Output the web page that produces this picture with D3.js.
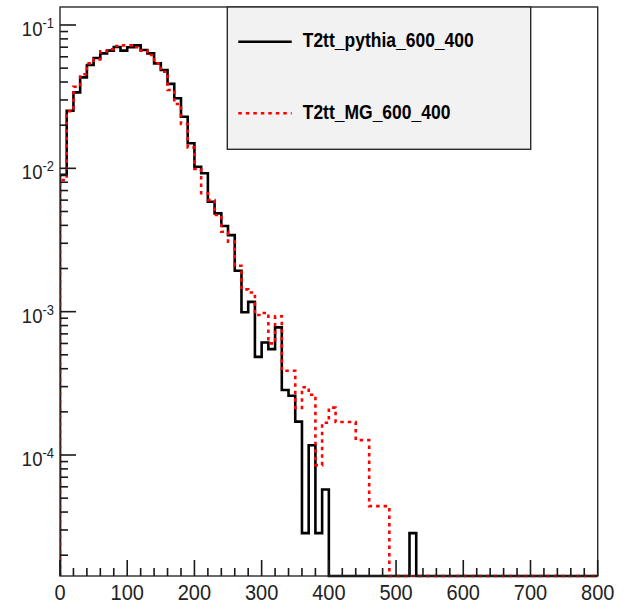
<!DOCTYPE html>
<html>
<head>
<meta charset="utf-8">
<script src="https://cdn.jsdelivr.net/npm/d3@7"></script>
<style>
  html, body { margin: 0; padding: 0; background: #fff; }
  svg { display: block; font-family: "Liberation Sans", Arial, Helvetica, sans-serif; }
</style>
</head>
<body>
<svg id="chart" width="627" height="609"></svg>
<script>
// Histogram binning: 80 bins of width 10 from 0 to 800
const binWidth = 10;
const binLow = d3.range(0, 800, binWidth);

// Normalised bin contents, T2tt_pythia_600_400
const pythia = [
  0.0090, 0.0252, 0.0339, 0.0431, 0.0526, 0.0589, 0.0634, 0.0662, 0.0702, 0.0662,
  0.0699, 0.0721, 0.0669, 0.0634, 0.0540, 0.0485, 0.0388, 0.0308, 0.0229, 0.01495,
  0.01025, 0.00923, 0.00585, 0.00485, 0.00396, 0.00342, 0.00193, 0.00099, 0.00117, 0.000484,
  0.00061, 0.000548, 0.000777, 0.000284, 0.000259, 0.000171, 0.0000285, 0.000117, 0.0000285, 0.0000575,
  0, 0, 0, 0, 0, 0, 0, 0, 0, 0,
  0, 0, 0.0000285, 0, 0, 0, 0, 0, 0, 0,
  0, 0, 0, 0, 0, 0, 0, 0, 0, 0,
  0, 0, 0, 0, 0, 0, 0, 0, 0, 0
];

// Normalised bin contents, T2tt_MG_600_400
const madgraph = [
  0.0083, 0.0250, 0.0371, 0.0453, 0.0540, 0.0576, 0.0655, 0.0677, 0.0714, 0.0721,
  0.0721, 0.0699, 0.0662, 0.0618, 0.0540, 0.0472, 0.0352, 0.0281, 0.0204, 0.0140,
  0.0099, 0.0067, 0.0060, 0.00472, 0.00361, 0.00308, 0.00209, 0.00143, 0.00136, 0.000947,
  0.00098, 0.000601, 0.00093, 0.000387, 0.000387, 0.000213, 0.000297, 0.000263, 0.000085, 0.000168,
  0.000214, 0.00017, 0.00017, 0.00017, 0.000127, 0.000127, 0.000044, 0.000044, 0.000044, 0,
  0, 0, 0, 0, 0, 0, 0, 0, 0, 0,
  0, 0, 0, 0, 0, 0, 0, 0, 0, 0,
  0, 0, 0, 0, 0, 0, 0, 0, 0, 0
];

const seriesNames = ["T2tt_pythia_600_400", "T2tt_MG_600_400"];
const xTickValues = [0, 100, 200, 300, 400, 500, 600, 700, 800];
const yDecades = [-4, -3, -2, -1];

// Frame geometry
const frame = { left: 60, right: 597.7, top: 7, bottom: 576 };
const yMin = 1.432e-5, yMax = 0.1335;
const frameColor = "#2a2a2a";
const textStretch = 1.12;

const svg = d3.select("#chart");

const x = d3.scaleLinear().domain([0, 800]).range([frame.left, frame.right]);
const y = d3.scaleLog().domain([yMin, yMax]).range([frame.bottom, frame.top]);

svg.append("defs").append("clipPath").attr("id", "plotClip")
  .append("rect")
  .attr("x", frame.left).attr("y", frame.top - 2)
  .attr("width", frame.right - frame.left).attr("height", frame.bottom - frame.top + 4);

// Step outline of a histogram; empty bins sit on the frame floor
function stepPoints(values) {
  const pts = [[0, yMin]];
  values.forEach((v, i) => {
    const val = v > yMin ? v : yMin;
    pts.push([binLow[i], val], [binLow[i] + binWidth, val]);
  });
  pts.push([800, yMin]);
  return pts;
}
const stepLine = d3.line().x(d => x(d[0])).y(d => y(d[1]));

const plot = svg.append("g").attr("clip-path", "url(#plotClip)");
plot.append("path")
  .attr("d", stepLine(stepPoints(pythia)))
  .attr("fill", "none").attr("stroke", "#000").attr("stroke-width", 2.6)
  .attr("stroke-linejoin", "miter");
plot.append("path")
  .attr("d", stepLine(stepPoints(madgraph)))
  .attr("fill", "none").attr("stroke", "#ff0000").attr("stroke-width", 2.6)
  .attr("stroke-dasharray", "3.5,4");

// Frame
svg.append("rect")
  .attr("x", frame.left).attr("y", frame.top)
  .attr("width", frame.right - frame.left).attr("height", frame.bottom - frame.top)
  .attr("fill", "none").attr("stroke", frameColor).attr("stroke-width", 1.4);

// Tick marks point inward from the frame edges, drawn as thin filled bars
const xMinor = d3.range(0, 801, 20).filter(v => v % 100 !== 0);
const yMinor = [];
for (let e = -5; e <= -1; e++) {
  for (let m = 2; m <= 9; m++) {
    const v = m * Math.pow(10, e);
    if (v > yMin && v < yMax) yMinor.push(v);
  }
}
const yMajor = yDecades.map(e => Math.pow(10, e));
const tickW = 1.6;

const tickLayer = svg.append("g").attr("fill", "#1a1a1a");
const xTicks = xMinor.map(v => ({ v, len: 8 })).concat(xTickValues.map(v => ({ v, len: 16 })));
tickLayer.selectAll("rect.xt").data(xTicks).join("rect")
  .attr("class", "xt")
  .attr("x", d => x(d.v) - tickW / 2).attr("y", d => frame.bottom - d.len)
  .attr("width", tickW).attr("height", d => d.len);
const yTicks = yMinor.map(v => ({ v, len: 8 })).concat(yMajor.map(v => ({ v, len: 16 })));
tickLayer.selectAll("rect.yt").data(yTicks).join("rect")
  .attr("class", "yt")
  .attr("x", frame.left).attr("y", d => y(d.v) - tickW / 2)
  .attr("width", d => d.len).attr("height", tickW);

// Tick labels
svg.append("g").selectAll("text").data(xTickValues).join("text")
  .attr("text-anchor", "middle").attr("fill", "#222").attr("font-size", 20)
  .attr("transform", d => `translate(${x(d)},${frame.bottom + 24}) scale(1,${textStretch})`)
  .text(d3.format("d"));

const yLabels = svg.append("g").selectAll("text").data(yDecades).join("text")
  .attr("text-anchor", "end").attr("fill", "#222")
  .attr("transform", d => `translate(${frame.left - 6},${y(Math.pow(10, d)) + 11}) scale(1,${textStretch})`);
yLabels.append("tspan").attr("font-size", 18.5).text("10");
yLabels.append("tspan").attr("font-size", 13).attr("dy", -7).text(d => String(d));

// Legend
const legend = svg.append("g");
legend.append("rect")
  .attr("x", 227.3).attr("y", frame.top).attr("width", 303.4).attr("height", 142.3)
  .attr("fill", "#f2f2f2").attr("stroke", frameColor).attr("stroke-width", 1.4);
const legendRows = [
  { name: seriesNames[0], color: "#000", dash: null, yLine: 41.7, yText: 47.3 },
  { name: seriesNames[1], color: "#ff0000", dash: "3.5,4", yLine: 113.3, yText: 119 }
];
legendRows.forEach(r => {
  legend.append("line")
    .attr("x1", 238.3).attr("x2", 291.7).attr("y1", r.yLine).attr("y2", r.yLine)
    .attr("stroke", r.color).attr("stroke-width", 2.6).attr("stroke-dasharray", r.dash);
  legend.append("text")
    .attr("transform", `translate(302.7,${r.yText}) scale(1,${textStretch})`)
    .attr("font-size", 17.5).attr("font-weight", "bold").attr("fill", "#000")
    .text(r.name);
});
</script>
</body>
</html>
